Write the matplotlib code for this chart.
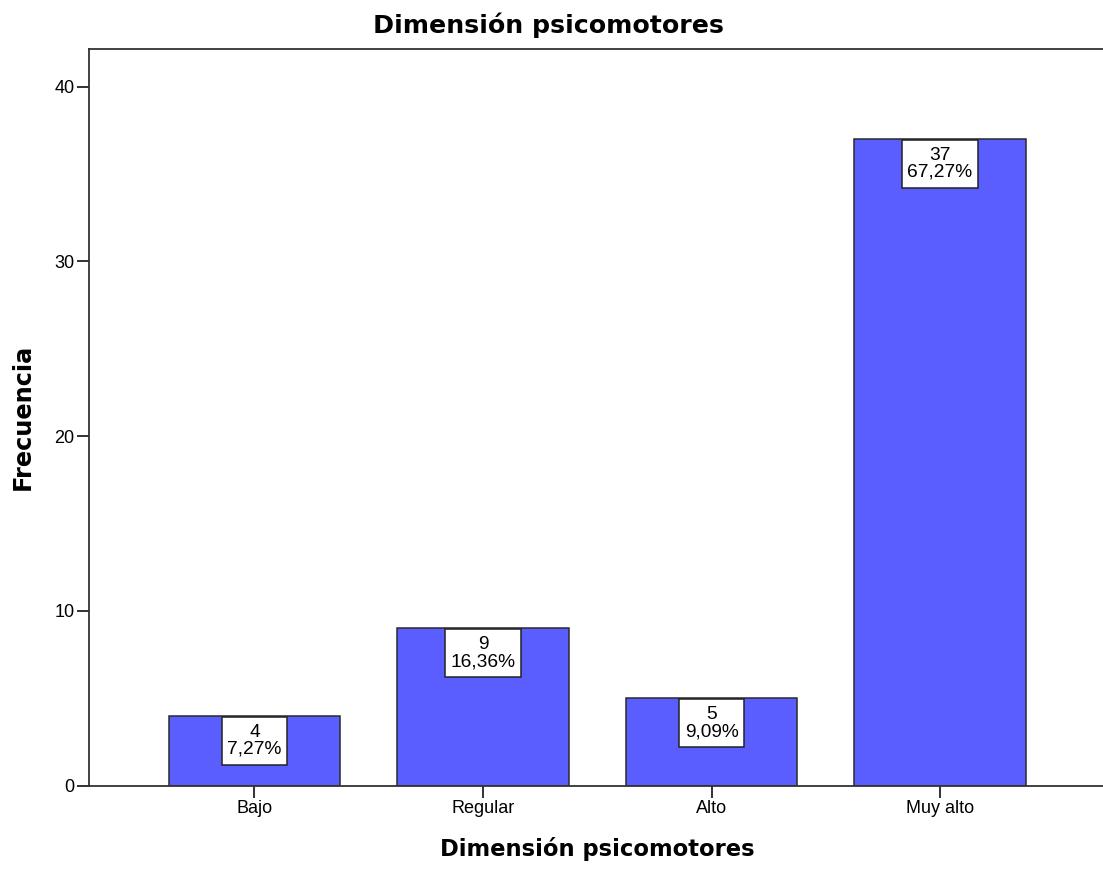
import matplotlib
matplotlib.use("Agg")
import matplotlib.pyplot as plt
from matplotlib.path import Path

categories = ["Bajo", "Regular", "Alto", "Muy alto"]
counts = [4, 9, 5, 37]
percents = ["7,27%", "16,36%", "9,09%", "67,27%"]
yticks = [0, 10, 20, 30, 40]

W, H = 1103, 871
fig = plt.figure(figsize=(W / 100, H / 100), dpi=100)
left, right, top, bottom = 89, 1105.5, 49, 785.7
ax = fig.add_axes([left / W, (H - bottom) / H, (right - left) / W, (bottom - top) / H])

x = list(range(len(categories)))
ax.bar(x, counts, width=0.75, color="#5b5eff", edgecolor="#2a2a2a", linewidth=1.1, zorder=2)

ax.set_xlim(-0.724, 3.724)
ax.set_ylim(0, 42.16)
ax.set_xticks(x)
ax.set_xticklabels(categories, family="Liberation Sans", fontsize=13)
ax.set_yticks(yticks)
ax.set_yticklabels([str(t) for t in yticks], family="Liberation Sans", fontsize=13)
ax.tick_params(axis="both", direction="out", length=8.5, width=1.3, color="#222222", pad=2)

for s in ["top", "bottom", "left", "right"]:
    ax.spines[s].set_color("#333333")
    ax.spines[s].set_linewidth(1.3)

PADX, PADY = 0.27, 0.37


def label_box(x0, y0, width, height, mutation_size):
    px = PADX * mutation_size
    py = PADY * mutation_size
    xa, xb = x0 - px, x0 + width + px
    ya, yb = y0 - py, y0 + height + py
    return Path([(xa, ya), (xb, ya), (xb, yb), (xa, yb), (xa, ya)],
                [Path.MOVETO, Path.LINETO, Path.LINETO, Path.LINETO, Path.CLOSEPOLY])


fs = 13.8
fs_px = fs * 100 / 72
offset_pt = -(PADY * fs_px + 0.7) * 72 / 100
for xi, c, p in zip(x, counts, percents):
    ax.annotate(f"{c}\n{p}", xy=(xi, c), xytext=(0, offset_pt), textcoords="offset points",
                ha="center", va="top", multialignment="center", family="Liberation Sans",
                fontsize=fs, linespacing=1.0, zorder=3,
                bbox=dict(boxstyle=label_box, fc="white", ec="#222222", lw=1.1))

ax.set_ylabel("Frecuencia", family="DejaVu Sans", fontweight="bold", fontsize=17.3, labelpad=14)
ax.set_xlabel("Dimensión psicomotores", family="DejaVu Sans", fontweight="bold", fontsize=16.3, labelpad=14)
fig.text(548.5 / W, 1 - 33.3 / H, "Dimensión psicomotores", ha="center", va="baseline",
         family="DejaVu Sans", fontweight="bold", fontsize=18.2)

fig.savefig("out.png", dpi=100)
